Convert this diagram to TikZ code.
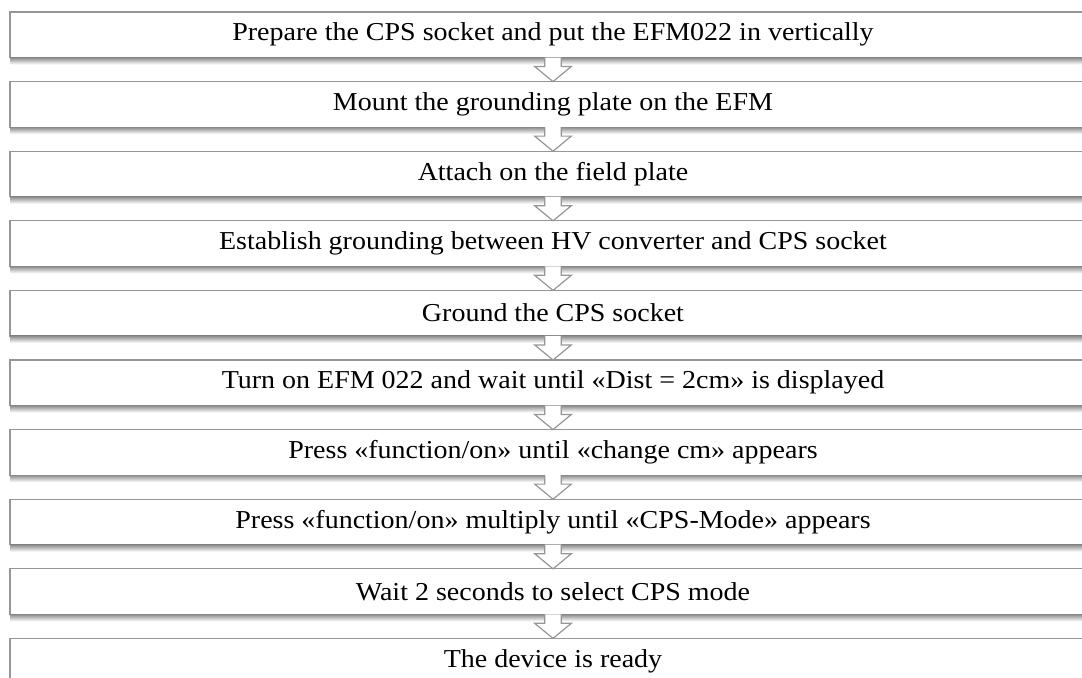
\documentclass[tikz,border=0pt]{standalone}
\usepackage{fontspec}
\setmainfont{Liberation Serif}[FakeStretch=1.085]
\usepackage{tikz}
\usetikzlibrary{calc}
\definecolor{boxgray}{RGB}{150,150,150}
\definecolor{shadegray}{RGB}{140,140,140}

\begin{document}
\begin{tikzpicture}[x=0.5pt,y=-0.5pt,
  stepbox/.style={draw=boxgray,fill=white,line width=0.6pt,rectangle,
    minimum width=543pt,minimum height=22.75pt,inner sep=0pt,outer sep=0pt,
    font=\fontsize{12.9}{14}\selectfont},
  boxshade/.style={top color=shadegray,bottom color=white},
  blockarrow/.style={draw=boxgray,fill=white,line width=0.6pt,line join=miter,
    to path={($(\tikztostart)+(-8.3,0)$) -- ($(\tikztostart)+(-8.3,9)$)
      -- ($(\tikztostart)+(-18.3,9)$) -- (\tikztotarget)
      -- ($(\tikztostart)+(18.3,9)$) -- ($(\tikztostart)+(8.3,9)$)
      -- ($(\tikztostart)+(8.3,0)$)}}]
\useasboundingbox (0,0) rectangle (1082,677);
\clip (0,0) rectangle (1082,677);
\fill[white] (0,0) rectangle (1082,677);
\node[stepbox] (prep) at (553,34.75) {Prepare the CPS socket and put the EFM022 in vertically};
\node[stepbox] (mount) at (553,104.35) {Mount the grounding plate on the EFM};
\node[stepbox] (attach) at (553,173.95) {Attach on the field plate};
\node[stepbox] (hvgnd) at (553,243.55) {Establish grounding between HV converter and CPS socket};
\node[stepbox] (sockgnd) at (553,313.15) {Ground the CPS socket};
\node[stepbox] (turnon) at (553,382.75) {Turn on EFM 022 and wait until «Dist = 2cm» is displayed};
\node[stepbox] (chcm) at (553,452.35) {Press «function/on» until «change cm» appears};
\node[stepbox] (cpsmode) at (553,521.95) {Press «function/on» multiply until «CPS-Mode» appears};
\node[stepbox] (wait) at (553,591.55) {Wait 2 seconds to select CPS mode};
\node[stepbox] (ready) at (553,661.15) {The device is ready};
% shadows under the boxes
\foreach \b in {prep,mount,attach,hvgnd,sockgnd,turnon,chcm,cpsmode,wait,ready}
  \shade[boxshade] (\b.south west) rectangle ($(\b.south east)+(0,7)$);
% arrows
\draw[blockarrow] (prep.south) to (mount.north);
\draw[blockarrow] (mount.south) to (attach.north);
\draw[blockarrow] (attach.south) to (hvgnd.north);
\draw[blockarrow] (hvgnd.south) to (sockgnd.north);
\draw[blockarrow] (sockgnd.south) to (turnon.north);
\draw[blockarrow] (turnon.south) to (chcm.north);
\draw[blockarrow] (chcm.south) to (cpsmode.north);
\draw[blockarrow] (cpsmode.south) to (wait.north);
\draw[blockarrow] (wait.south) to (ready.north);
\end{tikzpicture}
\end{document}
